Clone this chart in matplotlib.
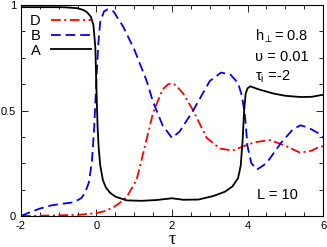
import numpy as np
import matplotlib
matplotlib.use("Agg")
import matplotlib.pyplot as plt
from matplotlib.ticker import MultipleLocator

plt.rcParams['font.family'] = ['Liberation Sans', 'DejaVu Sans']
plt.rcParams['mathtext.fontset'] = 'custom'
plt.rcParams['mathtext.rm'] = 'Liberation Sans'
plt.rcParams['mathtext.it'] = 'Liberation Sans'
plt.rcParams['lines.scale_dashes'] = False
plt.rcParams['axes.unicode_minus'] = False

# curve A (black, solid)
tau_a = [-2.0, -1.5, -1.0, -0.8, -0.5, -0.35, -0.25, -0.15, -0.08, -0.03, 0.0, 0.03, 0.06,
         0.1, 0.17, 0.25, 0.36, 0.5, 0.8, 1.2, 1.6, 2.0, 2.3, 2.7, 3.1, 3.4, 3.6, 3.75,
         3.82, 3.87, 3.91, 3.95, 4.0, 4.07, 4.3, 4.7, 5.0, 5.4, 5.7, 6.0]
val_a = [0.99, 0.99, 0.99, 0.989, 0.985, 0.977, 0.966, 0.945, 0.905, 0.8, 0.6, 0.42, 0.32,
         0.24, 0.17, 0.135, 0.11, 0.092, 0.074, 0.072, 0.076, 0.084, 0.077, 0.078, 0.095, 0.115,
         0.14, 0.18, 0.24, 0.36, 0.5, 0.58, 0.605, 0.615, 0.6, 0.58, 0.57, 0.564, 0.565, 0.575]

# curve B (blue, dashed)
tau_b = [-2.0, -1.8, -1.5, -1.2, -0.9, -0.6, -0.4, -0.3, -0.2, -0.12, -0.06, 0.0, 0.05, 0.1,
         0.2, 0.3, 0.45, 0.7, 1.0, 1.33, 1.5, 1.75, 2.0, 2.2, 2.56, 3.0, 3.3, 3.55, 3.75,
         3.85, 3.93, 4.0, 4.1, 4.25, 4.5, 4.9, 5.2, 5.4, 5.6, 5.9, 6.0]
val_b = [0.0, 0.015, 0.035, 0.05, 0.058, 0.065, 0.085, 0.11, 0.16, 0.26, 0.42, 0.65, 0.82, 0.92,
         0.97, 0.98, 0.97, 0.9, 0.79, 0.64, 0.54, 0.43, 0.37, 0.4, 0.5, 0.64, 0.68, 0.67, 0.63,
         0.57, 0.48, 0.33, 0.25, 0.22, 0.25, 0.35, 0.41, 0.43, 0.42, 0.39, 0.37]

# curve D (red, dash-dot)
tau_d = [-2.0, -1.0, -0.44, 0.0, 0.2, 0.44, 0.6, 0.8, 1.06, 1.2, 1.5, 1.75, 1.9, 2.0, 2.1,
         2.3, 2.56, 2.92, 3.27, 3.6, 3.88, 4.2, 4.6, 5.04, 5.39, 5.7, 5.92, 6.0]
val_d = [0.0, 0.003, 0.006, 0.014, 0.022, 0.04, 0.06, 0.09, 0.17, 0.27, 0.49, 0.6, 0.625, 0.63, 0.62,
         0.58, 0.5, 0.37, 0.32, 0.31, 0.33, 0.35, 0.36, 0.33, 0.30, 0.31, 0.33, 0.33]

fig = plt.figure(figsize=(3.27, 2.47), dpi=100)
ax = fig.add_axes([0.064, 0.1255, 0.924, 0.854])

ax.plot(tau_d, val_d, color='#ff0000', lw=1.3, dashes=[7, 2.5, 1.5, 2.5], label='D')
ax.plot(tau_b, val_b, color='#0000ff', lw=1.3, dashes=[7, 3.5], label='B')
ax.plot(tau_a, val_a, color='black', lw=1.3, label='A')

ax.set_xlim(-2, 6)
ax.set_ylim(0, 1)
ax.set_xticks([-2, 0, 2, 4, 6])
ax.set_yticks([0, 0.5, 1])
ax.set_yticklabels(['0', '0.5', '1'])
ax.xaxis.set_minor_locator(MultipleLocator(0.5))
ax.yaxis.set_minor_locator(MultipleLocator(0.125))
ax.tick_params(which='both', direction='in', top=True, right=True, labelsize=8, width=0.6)
ax.tick_params(which='major', length=5)
ax.tick_params(which='minor', length=3)
for s in ax.spines.values():
    s.set_linewidth(0.8)
ax.set_xlabel('τ', fontsize=13, labelpad=0, family=['Liberation Serif', 'DejaVu Serif'])

ax.legend(loc='upper left', frameon=False, markerfirst=False, fontsize=10.5,
          handlelength=2.8, borderaxespad=0.0, labelspacing=0.05, handletextpad=0.7,
          bbox_to_anchor=(0.01, 0.985))

ax.text(4.2, 0.85, r'h$_{\perp}$= 0.8', fontsize=10.5, va='center')
ax.text(4.2, 0.755, 'υ = 0.01', fontsize=10.5, va='center')
ax.text(4.2, 0.66, r'τ$_{\mathrm{i}}$ =-2', fontsize=10.5, va='center')
ax.text(4.25, 0.1, 'L = 10', fontsize=10.5, va='center')

fig.savefig('out.png', dpi=100)
